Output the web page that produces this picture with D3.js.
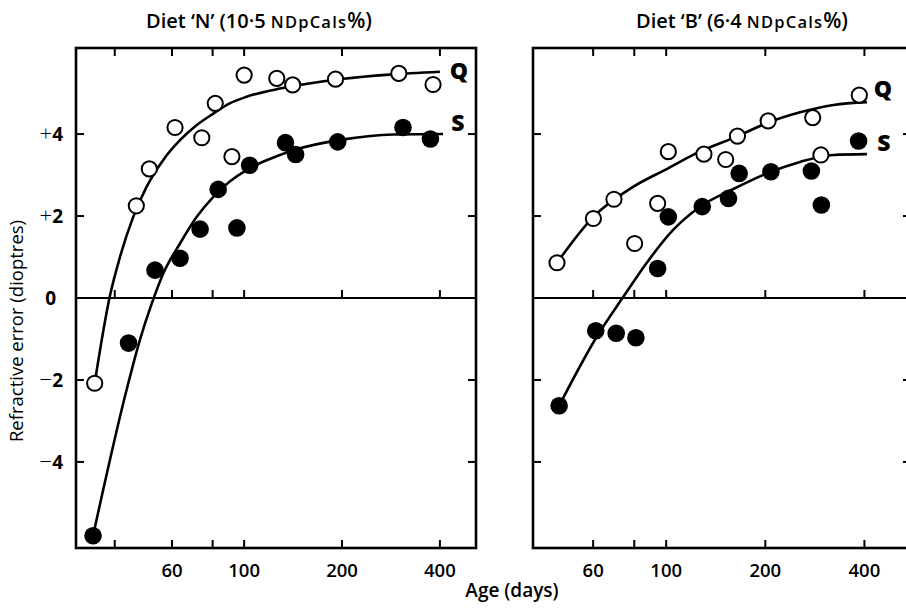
<!DOCTYPE html>
<html>
<head>
<meta charset="utf-8">
<script src="https://cdn.jsdelivr.net/npm/d3@7"></script>
<style>
  body { margin: 0; background: #fff; }
  svg { display: block; }
  text { font-family: "Open Sans", Lato, sans-serif; fill: #000; }
</style>
</head>
<body>
<svg id="chart" width="906" height="611"></svg>
<script>
// Axis ticks
const ageTicks = [40, 60, 80, 100, 200, 400];
const ageTickLabels = [60, 100, 200, 400];
const refractionTicks = [-4, -2, 2, 4];
const refractionLabels = [4, 2, 0, -2, -4];

// Diet 'N' — observations (age in days, refraction in dioptres)
const nQAge = [34.7, 46.6, 51.1, 61.3, 74.1, 81.5, 91.7, 100, 126, 141, 191, 299, 381];
const nQRefraction = [-2.08, 2.25, 3.15, 4.16, 3.91, 4.75, 3.45, 5.44, 5.36, 5.2, 5.34, 5.48, 5.21];
const nSAge = [34.3, 44.1, 53.2, 63.5, 73.2, 83.2, 95, 104, 134, 144, 194, 308, 374];
const nSRefraction = [-5.8, -1.1, 0.68, 0.97, 1.68, 2.65, 1.71, 3.24, 3.79, 3.5, 3.81, 4.16, 3.88];
// Diet 'N' — fitted growth curves
const nQCurveAge = [34.7, 38.6, 41.5, 45.6, 50.1, 56.4, 63.5, 71.5, 80.4, 90.3, 101.7, 128.8, 160, 202, 280, 400];
const nQCurveValue = [-2.08, 0.03, 1.0, 1.98, 2.71, 3.37, 3.85, 4.22, 4.5, 4.75, 4.91, 5.11, 5.24, 5.35, 5.45, 5.52];
const nSCurveAge = [34.3, 43.5, 47.8, 52.0, 56.4, 63.5, 71.5, 80.4, 90.3, 101.7, 114.7, 128.8, 141, 202, 287, 409];
const nSCurveValue = [-5.8, -2.24, -1.02, -0.13, 0.6, 1.33, 1.98, 2.47, 2.84, 3.12, 3.33, 3.49, 3.6, 3.87, 3.99, 4.0];

// Diet 'B' — observations
const bQAge = [46.6, 60.1, 69.4, 80.2, 94.2, 101.5, 130.2, 151.6, 164.6, 204, 278.6, 295, 386];
const bQRefraction = [0.86, 1.94, 2.41, 1.33, 2.31, 3.57, 3.51, 3.38, 3.95, 4.32, 4.4, 3.49, 4.95];
const bSAge = [47.3, 61.1, 70.5, 80.9, 94.2, 101.5, 128.7, 154.6, 166.6, 208, 276, 296, 384];
const bSRefraction = [-2.63, -0.8, -0.86, -0.97, 0.72, 1.98, 2.23, 2.43, 3.04, 3.08, 3.1, 2.27, 3.83];
// Diet 'B' — fitted growth curves
const bQCurveAge = [46.6, 60.1, 79.3, 100, 126.4, 165, 204, 255, 322, 407];
const bQCurveValue = [0.86, 1.98, 2.71, 3.14, 3.57, 3.95, 4.28, 4.53, 4.71, 4.78];
const bSCurveAge = [47.3, 61.6, 74.1, 87.1, 105, 126.4, 160, 202, 255, 322, 407];
const bSCurveValue = [-2.63, -0.94, 0.03, 0.85, 1.66, 2.22, 2.66, 3.04, 3.32, 3.49, 3.51];

const svg = d3.select("#chart");
const plotTop = 48, plotBottom = 548;
const y = d3.scaleLinear().domain([-6.1, 6.1]).range([plotBottom, plotTop]);
const tickLen = 8;

const panels = [
  {
    title: "Diet \u2018N\u2019 (10\u00b75 ", titleX: 259,
    x: d3.scaleLog().domain([30.4, 516.5]).range([76, 476]),
    yLabels: true,
    series: [
      { age: nQAge, val: nQRefraction, filled: false, cAge: nQCurveAge, cVal: nQCurveValue, tag: "Q", tagPos: [459, 70] },
      { age: nSAge, val: nSRefraction, filled: true, cAge: nSCurveAge, cVal: nSCurveValue, tag: "S", tagPos: [458, 122] }
    ]
  },
  {
    title: "Diet \u2018B\u2019 (6\u00b74 ", titleX: 742,
    x: d3.scaleLog().domain([39.4, 554]).range([533, 911]),
    yLabels: false,
    series: [
      { age: bQAge, val: bQRefraction, filled: false, cAge: bQCurveAge, cVal: bQCurveValue, tag: "Q", tagPos: [883, 88] },
      { age: bSAge, val: bSRefraction, filled: true, cAge: bSCurveAge, cVal: bSCurveValue, tag: "S", tagPos: [884, 142] }
    ]
  }
];

panels.forEach(p => {
  const x = p.x;
  const [x0, x1] = x.range();
  const g = svg.append("g");
  const inTicks = ageTicks.filter(t => x(t) > x0 + 3 && x(t) < x1 - 3);

  // title
  const t = g.append("text").attr("x", p.titleX).attr("y", 28)
    .attr("text-anchor", "middle").attr("font-size", 20).attr("font-weight", 600)
    .text(p.title);
  t.append("tspan").attr("font-size", 16.5).attr("letter-spacing", 1.2).text("NDpCals");
  t.append("tspan").attr("font-size", 21).text("%)");

  // frame
  g.append("rect").attr("x", x0).attr("y", plotTop).attr("width", x1 - x0).attr("height", plotBottom - plotTop)
    .attr("fill", "none").attr("stroke", "#000").attr("stroke-width", 2.6);

  // zero line
  g.append("line").attr("x1", x0).attr("x2", x1).attr("y1", y(0)).attr("y2", y(0))
    .attr("stroke", "#000").attr("stroke-width", 1.8);

  // age ticks: top, bottom, and on the zero line
  const tickG = g.append("g").attr("stroke", "#000").attr("stroke-width", 2);
  inTicks.forEach(v => {
    tickG.append("line").attr("x1", x(v)).attr("x2", x(v)).attr("y1", plotTop).attr("y2", plotTop + tickLen);
    tickG.append("line").attr("x1", x(v)).attr("x2", x(v)).attr("y1", plotBottom).attr("y2", plotBottom - tickLen);
    tickG.append("line").attr("x1", x(v)).attr("x2", x(v)).attr("y1", y(0)).attr("y2", y(0) - tickLen);
  });
  // refraction ticks on both sides, inward
  refractionTicks.forEach(v => {
    tickG.append("line").attr("x1", x0).attr("x2", x0 + tickLen).attr("y1", y(v)).attr("y2", y(v));
    tickG.append("line").attr("x1", x1).attr("x2", x1 - tickLen).attr("y1", y(v)).attr("y2", y(v));
  });

  // age tick labels
  ageTickLabels.forEach(v => {
    g.append("text").attr("x", x(v)).attr("y", 577).attr("text-anchor", "middle")
      .attr("font-size", 18.5).attr("font-weight", 600).text(v);
  });

  // refraction labels (left panel only)
  if (p.yLabels) {
    refractionLabels.forEach(v => {
      const lt = g.append("text").attr("x", v === 0 ? 56 : 63).attr("y", y(v) + 7)
        .attr("text-anchor", "end").attr("font-size", 19);
      if (v !== 0) {
        lt.append("tspan").attr("font-weight", 300).attr("font-size", 22)
          .text(v > 0 ? "+" : "\u2212");
      }
      lt.append("tspan").attr("font-weight", 700).text(Math.abs(v));
    });
  }

  const line = d3.line().curve(d3.curveMonotoneX).x(d => x(d[0])).y(d => y(d[1]));

  // fitted curves
  p.series.forEach(s => {
    g.append("path").datum(s.cAge.map((a, i) => [a, s.cVal[i]]))
      .attr("d", line).attr("fill", "none").attr("stroke", "#000").attr("stroke-width", 2.6);
  });

  // observations
  p.series.forEach(s => {
    g.append("g").selectAll("circle").data(s.age.map((a, i) => [a, s.val[i]])).join("circle")
      .attr("cx", d => x(d[0])).attr("cy", d => y(d[1]))
      .attr("r", s.filled ? 8.8 : 7.6)
      .attr("fill", s.filled ? "#000" : "#fff")
      .attr("stroke", "#000").attr("stroke-width", s.filled ? 0 : 2);
  });

  // curve tags
  p.series.forEach(s => {
    g.append("text").attr("x", s.tagPos[0]).attr("y", s.tagPos[1] + 8.5)
      .attr("text-anchor", "middle").attr("font-size", 23).attr("font-weight", 800).text(s.tag);
  });
});

// axis titles
svg.append("text").attr("x", 512).attr("y", 597).attr("text-anchor", "middle")
  .attr("font-size", 19).attr("font-weight", 600).text("Age (days)");
svg.append("text").attr("transform", "translate(23,331) rotate(-90)").attr("text-anchor", "middle")
  .attr("font-size", 18.5).attr("font-weight", 500).text("Refractive error (dioptres)");
</script>
</body>
</html>
